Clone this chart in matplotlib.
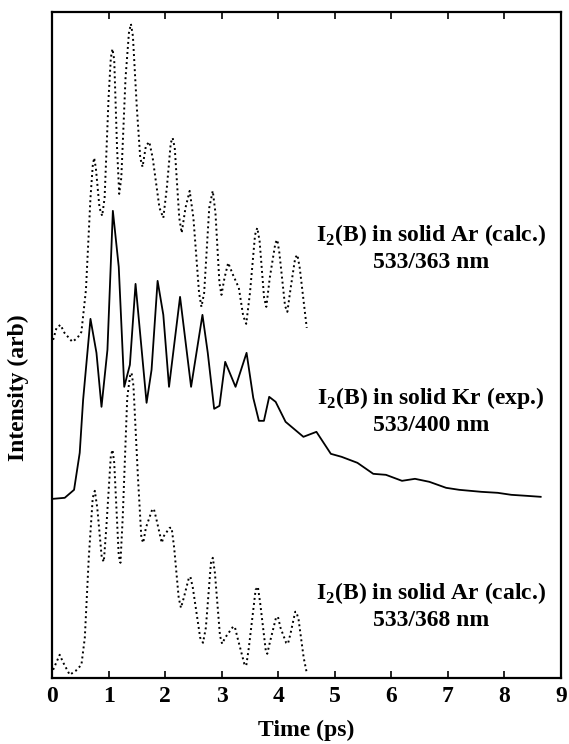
import matplotlib
matplotlib.use("Agg")
import matplotlib.pyplot as plt

# values (time in ps, intensity in arbitrary stacked units)
t_ar363 = [0.02, 0.08, 0.15, 0.22, 0.36, 0.45, 0.52, 0.60, 0.68, 0.72, 0.745, 0.775,
           0.84, 0.887, 0.93, 1.0, 1.04, 1.069, 1.10, 1.15, 1.188, 1.225, 1.30, 1.36,
           1.395, 1.43, 1.50, 1.56, 1.601, 1.66, 1.72, 1.78, 1.90, 1.968, 2.03, 2.10,
           2.133, 2.17, 2.25, 2.293, 2.36, 2.434, 2.50, 2.60, 2.642, 2.69, 2.78, 2.842,
           2.89, 2.96, 2.996, 3.05, 3.115, 3.20, 3.303, 3.38, 3.434, 3.50, 3.59, 3.629,
           3.67, 3.75, 3.789, 3.85, 3.95, 3.984, 4.02, 4.12, 4.161, 4.22, 4.30, 4.339,
           4.38, 4.504]
i_ar363 = [338, 350, 353, 345, 336, 340, 346, 388, 480, 512, 520, 510,
           470, 462, 480, 580, 620, 629, 618, 530, 484, 500, 600, 645,
           654, 642, 570, 520, 511, 532, 536, 520, 470, 460, 490, 535,
           540, 530, 460, 445, 470, 487, 460, 385, 371, 385, 470, 487,
           465, 395, 383, 400, 415, 403, 390, 362, 354, 385, 443, 450,
           437, 380, 371, 400, 435, 438, 425, 372, 366, 390, 420, 423,
           410, 350]

t_kr400 = [0.02, 0.225, 0.39, 0.49, 0.55, 0.68, 0.786, 0.875, 0.98, 1.076, 1.18, 1.277,
           1.377, 1.477, 1.672, 1.76, 1.867, 1.968, 2.069, 2.264, 2.459, 2.66, 2.754,
           2.867, 2.961, 3.062, 3.245, 3.44, 3.558, 3.658, 3.747, 3.84, 3.954, 4.13,
           4.445, 4.675, 4.93, 5.12, 5.40, 5.68, 5.904, 6.188, 6.418, 6.672, 6.968,
           7.20, 7.589, 7.88, 8.12, 8.39, 8.64]
i_kr400 = [179, 180, 188, 225, 278, 359, 325, 271, 328, 467, 411, 291,
           313, 394, 275, 308, 397, 363, 291, 381, 291, 363, 325,
           269, 272, 316, 291, 325, 280, 257, 257, 281, 276, 256,
           241, 246, 224, 221, 215, 204, 203, 197, 199, 196, 190,
           188, 186, 185, 183, 182, 181]

t_ar368 = [0.02, 0.136, 0.2, 0.313, 0.42, 0.52, 0.58, 0.65, 0.72, 0.757, 0.80, 0.88,
           0.916, 0.96, 1.04, 1.07, 1.10, 1.18, 1.21, 1.25, 1.33, 1.38, 1.406, 1.44,
           1.52, 1.58, 1.613, 1.66, 1.77, 1.80, 1.84, 1.94, 1.98, 2.08, 2.115, 2.16,
           2.24, 2.28, 2.33, 2.42, 2.447, 2.49, 2.62, 2.67, 2.72, 2.81, 2.843, 2.88,
           2.97, 3.008, 3.06, 3.20, 3.232, 3.28, 3.40, 3.434, 3.48, 3.60, 3.64, 3.68,
           3.78, 3.806, 3.85, 3.96, 3.995, 4.04, 4.14, 4.172, 4.22, 4.30, 4.32, 4.36,
           4.45, 4.504]
i_ar368 = [8, 23, 15, 3, 7, 13, 40, 120, 180, 187, 170, 120,
           116, 150, 222, 228, 215, 122, 115, 160, 280, 302, 305, 292,
           200, 140, 135, 150, 168, 169, 160, 135, 142, 150, 150, 130,
           80, 70, 80, 100, 101, 90, 40, 35, 50, 115, 120, 105,
           42, 34, 40, 51, 51, 40, 14, 12, 30, 88, 91, 75,
           27, 24, 35, 60, 61, 50, 35, 34, 45, 66, 66, 58,
           20, 5]

labels = [
    ("I$_\\mathbf{2}$(B) in solid Ar (calc.)", "533/363 nm"),
    ("I$_\\mathbf{2}$(B) in solid Kr (exp.)", "533/400 nm"),
    ("I$_\\mathbf{2}$(B) in solid Ar (calc.)", "533/368 nm"),
]
label_y = [429, 266, 71]  # centre height of each two-line caption, data units

plt.rcParams["font.family"] = ["Liberation Serif", "DejaVu Serif"]
plt.rcParams["font.weight"] = "bold"
plt.rcParams["mathtext.fontset"] = "custom"
plt.rcParams["mathtext.rm"] = "Liberation Serif:bold"
plt.rcParams["mathtext.bf"] = "Liberation Serif:bold"

fig = plt.figure(figsize=(5.69, 7.44), dpi=100)
ax = fig.add_axes([0.0914, 0.089, 0.8946, 0.895])

dots = (0, (1, 1.6))
ax.plot(t_ar363, i_ar363, color="black", lw=1.4, ls=dots)
ax.plot(t_kr400, i_kr400, color="black", lw=1.3)
ax.plot(t_ar368, i_ar368, color="black", lw=1.4, ls=dots)

for (l1, l2), y in zip(labels, label_y):
    ax.text(6.70, y + 14, l1, ha="center", va="center", fontsize=17, fontweight="bold")
    ax.text(6.70, y - 14, l2, ha="center", va="center", fontsize=17, fontweight="bold")

ax.set_xlim(0, 9)
ax.set_ylim(0, 666)
ax.set_xticks(range(10))
ax.set_yticks([])
ax.tick_params(axis="x", direction="in", top=True, length=5, width=1.2,
               labelsize=17, pad=6)
for lab in ax.get_xticklabels():
    lab.set_fontweight("bold")
for s in ax.spines.values():
    s.set_linewidth(1.6)

ax.set_xlabel("Time (ps)", fontsize=17, fontweight="bold", labelpad=9)
ax.set_ylabel("Intensity (arb)", fontsize=17, fontweight="bold")
ax.yaxis.set_label_coords(-0.045, 0.435)

fig.savefig("out.png", dpi=100)
